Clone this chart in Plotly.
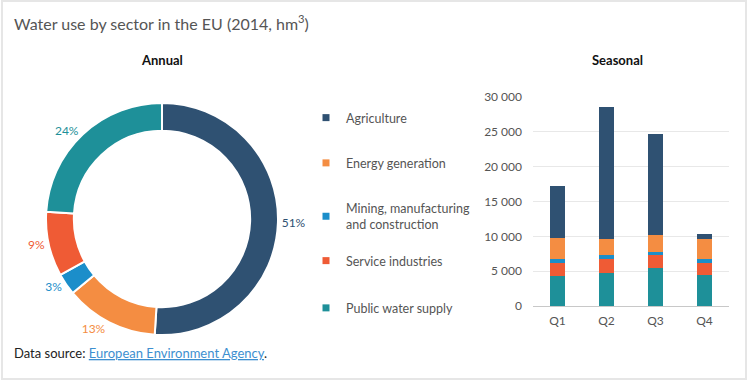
import plotly.graph_objects as go

# ---- data ----
sectors = ["Agriculture", "Energy generation", "Mining, manufacturing<br>and construction",
           "Service industries", "Public water supply"]
annual_share = [51, 13, 3, 9, 24]
quarters = ["Q1", "Q2", "Q3", "Q4"]
agriculture = [7580, 18950, 14500, 720]
energy = [3000, 2400, 2440, 2830]
mining = [470, 530, 480, 530]
service = [1900, 1920, 1780, 1820]
public_supply = [4320, 4800, 5520, 4420]
colors = ["#2f5172", "#f48d42", "#1b8eca", "#ef5b35", "#1e9099"]

W, H = 750, 385
FONT = "Lato"

def px(x):
    return x / W

def py(y):
    return 1 - y / H

fig = go.Figure()

fig.add_trace(go.Pie(
    labels=sectors, values=annual_share, hole=0.76, sort=False,
    direction="clockwise", rotation=0,
    marker=dict(colors=colors, line=dict(color="white", width=2)),
    textinfo="percent", textposition="outside",
    textfont=dict(color=colors, size=12, family=FONT),
    domain=dict(x=[px(46), px(278)], y=[py(335), py(103)]),
    showlegend=False, hoverinfo="label+percent",
))

bar_series = [
    (sectors[4], public_supply, colors[4]),
    (sectors[3], service, colors[3]),
    (sectors[2], mining, colors[2]),
    (sectors[1], energy, colors[1]),
    (sectors[0], agriculture, colors[0]),
]
for name, vals, col in bar_series:
    fig.add_trace(go.Bar(
        x=quarters, y=vals, name=name, marker=dict(color=col, line=dict(width=0)),
        xaxis="x", yaxis="y", showlegend=False, legendgroup=name,
    ))
# legend entries (first three in legend, last two in legend2)
for i, (name, vals, col) in enumerate(reversed(bar_series)):
    fig.add_trace(go.Scatter(
        x=[None], y=[None], mode="markers", name=name, legendgroup=name,
        marker=dict(symbol="square", size=7, color=col),
        xaxis="x", yaxis="y", showlegend=True,
        legend="legend" if i < 3 else "legend2",
    ))

legend_common = dict(xanchor="left", yanchor="top", traceorder="grouped",
                     font=dict(size=12.5, color="#555555", family=FONT),
                     bgcolor="rgba(0,0,0,0)", itemclick=False, itemdoubleclick=False)

fig.update_layout(
    width=W, height=H,
    margin=dict(l=0, r=0, t=0, b=0, autoexpand=False),
    paper_bgcolor="white", plot_bgcolor="white",
    separators=". ",
    font=dict(family=FONT, color="#555555", size=12),
    barmode="stack", bargap=0.69,
    xaxis=dict(domain=[px(533), px(729)], showgrid=False, showline=False,
               ticks="", ticklabelstandoff=6, automargin=False,
               tickfont=dict(size=12, color="#555555")),
    yaxis=dict(domain=[py(306), py(97)], range=[0, 30000], dtick=5000,
               tickformat=",d", gridcolor="#e8e8e8", gridwidth=1,
               zeroline=True, zerolinecolor="#c8c8c8", zerolinewidth=1,
               showline=False, ticks="", ticklabelstandoff=10, automargin=False,
               tickfont=dict(size=12, color="#555555")),
    legend=dict(x=px(306), y=py(103), tracegroupgap=26, **legend_common),
    legend2=dict(x=px(306), y=py(246), tracegroupgap=28, **legend_common),
    shapes=[dict(type="rect", xref="paper", yref="paper",
                 x0=px(2), x1=px(746), y0=py(379), y1=py(1),
                 line=dict(color="#e6e6e6", width=2), layer="below")],
    annotations=[
        dict(text="Water use by sector in the EU (2014, hm<sup>3</sup>)",
             x=px(12), y=py(22), xref="paper", yref="paper",
             xanchor="left", yanchor="middle", showarrow=False,
             font=dict(size=16, color="#555555", family=FONT)),
        dict(text="<b>Annual</b>", x=px(162), y=py(60), xref="paper", yref="paper",
             xanchor="center", yanchor="middle", showarrow=False,
             font=dict(size=13, color="#111111", family=FONT)),
        dict(text="<b>Seasonal</b>", x=px(617), y=py(60), xref="paper", yref="paper",
             xanchor="center", yanchor="middle", showarrow=False,
             font=dict(size=13, color="#111111", family=FONT)),
        dict(text="Data source: <span style='color:#3d8fd0'><u>European Environment Agency</u></span>.",
             x=px(12), y=py(353), xref="paper", yref="paper",
             xanchor="left", yanchor="middle", showarrow=False,
             font=dict(size=13, color="#222222", family=FONT)),
    ],
)

fig.write_html("out.html", config={"displayModeBar": False},
               post_script="document.body.style.margin='0';")
